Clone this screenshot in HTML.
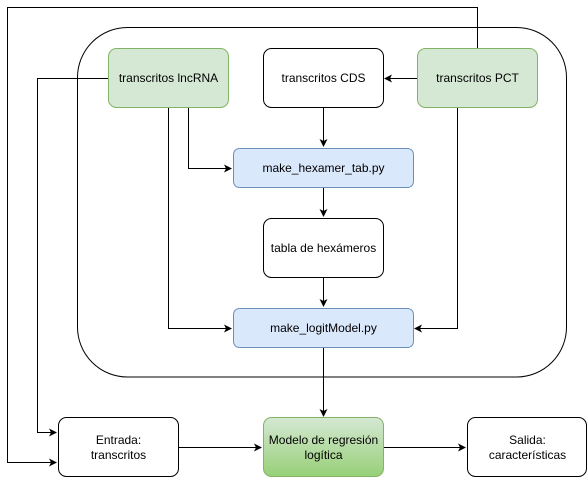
<!DOCTYPE html>
<html><head><meta charset="utf-8"><style>body{margin:0;background:#fff}</style></head><body>
<svg width="588" height="478" viewBox="0 0 588 478" xmlns="http://www.w3.org/2000/svg" style="font-family:'Liberation Sans',Arial,sans-serif" font-size="12">
<defs>
<marker id="a" markerWidth="8" markerHeight="8" refX="7" refY="4" orient="auto" markerUnits="userSpaceOnUse"><path d="M0,0 L8,4 L0,8 L2,4 Z" fill="#000"/></marker>
<linearGradient id="g" x1="0" y1="0" x2="0" y2="1"><stop offset="0" stop-color="#d5e8d4"/><stop offset="1" stop-color="#97d077"/></linearGradient>
</defs>
<rect x="77.5" y="27.5" width="489" height="349.5" rx="50" fill="#fff" stroke="#000"/>
<g fill="none" stroke="#000">
<path d="M477.5,48 V7.5 H7.5 V462.5 H56" marker-end="url(#a)"/>
<path d="M108,78.5 H37.5 V432.5 H56" marker-end="url(#a)"/>
<path d="M417,78.5 H385" marker-end="url(#a)"/>
<path d="M188.5,108 V168.5 H231" marker-end="url(#a)"/>
<path d="M168.5,108 V328.5 H231" marker-end="url(#a)"/>
<path d="M457.5,108 V328.5 H415" marker-end="url(#a)"/>
<path d="M323.5,108 V146" marker-end="url(#a)"/>
<path d="M323.5,188 V216" marker-end="url(#a)"/>
<path d="M323.5,278 V306" marker-end="url(#a)"/>
<path d="M323.5,348 V416" marker-end="url(#a)"/>
<path d="M178,447.5 H261" marker-end="url(#a)"/>
<path d="M383,447.5 H465" marker-end="url(#a)"/>
</g>
<rect x="108.5" y="48.5" width="120" height="59" rx="8" fill="#d5e8d4" stroke="#82b366"/>
<rect x="263.5" y="48.5" width="120" height="59" rx="8" fill="#fff" stroke="#000"/>
<rect x="417.5" y="48.5" width="120" height="59" rx="8" fill="#d5e8d4" stroke="#82b366"/>
<rect x="233.5" y="148.5" width="180" height="39" rx="6" fill="#dae8fc" stroke="#6c8ebf"/>
<rect x="263.5" y="218.5" width="120" height="59" rx="8" fill="#fff" stroke="#000"/>
<rect x="233.5" y="308.5" width="180" height="39" rx="6" fill="#dae8fc" stroke="#6c8ebf"/>
<rect x="58.5" y="417.5" width="120" height="59" rx="8" fill="#fff" stroke="#000"/>
<rect x="263.5" y="417.5" width="120" height="59" rx="8" fill="url(#g)" stroke="#82b366"/>
<rect x="467.5" y="417.5" width="119" height="59" rx="8" fill="#fff" stroke="#000"/>
<g text-anchor="middle">
<text x="168.5" y="82">transcritos lncRNA</text>
<text x="323.5" y="82">transcritos CDS</text>
<text x="477.5" y="82">transcritos PCT</text>
<text x="323.5" y="172">make_hexamer_tab.py</text>
<text x="323.5" y="252">tabla de hexámeros</text>
<text x="323.5" y="332">make_logitModel.py</text>
<text x="118.5" y="444">Entrada:</text>
<text x="118.5" y="459">transcritos</text>
<text x="323.5" y="444">Modelo de regresión</text>
<text x="323.5" y="459">logítica</text>
<text x="527.5" y="444">Salida:</text>
<text x="527.5" y="459">características</text>
</g>
</svg>
</body></html>
